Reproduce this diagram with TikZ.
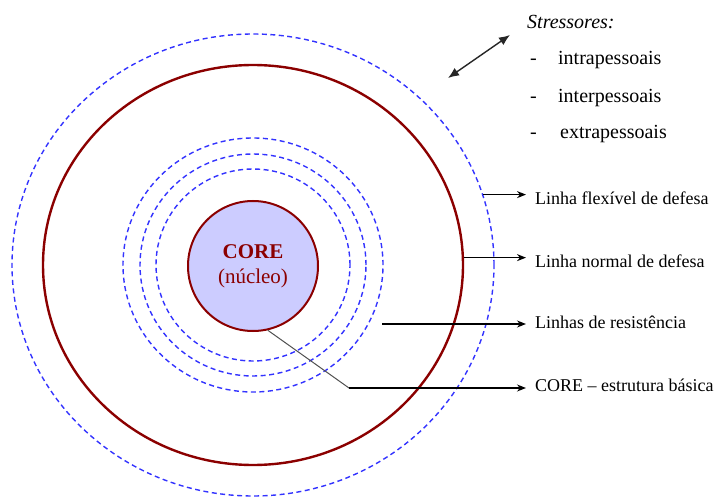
\documentclass[tikz,border=0pt]{standalone}
\usepackage{fontspec}
\setmainfont{Liberation Serif}
\usepackage{tikz}
\usetikzlibrary{arrows.meta,positioning,shapes.geometric}
\definecolor{CoreRed}{HTML}{8B0000}
\definecolor{CoreFill}{HTML}{CCCCFF}
\definecolor{DashBlue}{HTML}{3333FF}
\definecolor{LeadGray}{HTML}{505050}

\begin{document}
\begin{tikzpicture}[
    x=1pt, y=-1pt,
    font=\fontsize{18}{21}\selectfont,
    % linhas tracejadas (flexível e resistência)
    ring/.style={ellipse, draw=DashBlue, line width=1.4pt, dash pattern=on 5pt off 3.5pt, inner sep=0pt},
    normline/.style={ellipse, draw=CoreRed, line width=2.4pt, inner sep=0pt},
    core/.style={circle, draw=CoreRed, line width=2pt, fill=CoreFill, inner sep=0pt, minimum size=130pt, text=CoreRed, align=center, font=\fontsize{21}{25}\selectfont},
    tag/.style={anchor=base west, inner sep=0pt},
    stag/.style={anchor=base west, inner sep=0pt, font=\fontsize{20}{24}\selectfont},
    arr/.style={-{Stealth[length=9pt,width=7pt]}, line width=1.3pt, shorten >=9pt},
    lead/.style={draw=LeadGray, line width=1pt},
    stressarr/.style={{Latex[length=11pt,width=9pt]}-{Latex[length=11pt,width=9pt]}, line width=1.4pt, draw=black!85}
]
\useasboundingbox (0,0) rectangle (715,497);

% anéis à volta do núcleo
\coordinate (ctr) at (253,265);
\node[ring, minimum width=482pt, minimum height=462pt] (flex) at (ctr) {};
\node[normline, minimum width=420pt, minimum height=400pt] (normal) at (ctr) {};
\node[ring, minimum width=260pt, minimum height=254pt] (res3) at (ctr) {};
\node[ring, minimum width=226pt, minimum height=222pt] (res2) at (ctr) {};
\node[ring, minimum width=194pt, minimum height=192pt] (res1) at (ctr) {};
\node[core] (core) at (253,266) {\textbf{CORE}\\(núcleo)};

% legendas da direita
\node[tag] (lflex) at (535,205) {Linha flexível de defesa};
\node[tag] (lnorm) at (535,267) {Linha normal de defesa};
\node[tag] (lres) at (535,328) {Linhas de resistência};
\node[tag] (lcore) at (535,391) {CORE -- estrutura básica};

\coordinate (rstart) at (382,324);
\coordinate (bend) at (349,388);

\draw[arr] (flex.17) -- (flex.17 -| lflex.west);
\draw[arr] (normal.2) -- (normal.2 -| lnorm.west);
\draw[arr] (rstart) -- (rstart -| lres.west);
\draw[lead] (core.-77) -- (bend);
\draw[arr] (bend) -- (bend -| lcore.west);

% stressores
\node[stag, font=\fontsize{20}{24}\selectfont\itshape] (stress) at (527,29) {Stressores:};
\node[stag] (intra) at (530,65) {\makebox[28pt][l]{-}intrapessoais};
\node[stag] (inter) at (530,103) {\makebox[28pt][l]{-}interpessoais};
\node[stag] (extra) at (530,139) {\makebox[30pt][l]{-}extrapessoais};

\coordinate (sA) at (448,78);
\coordinate (sB) at (510,35);
\draw[stressarr] (sA) -- (sB);
\end{tikzpicture}
\end{document}
